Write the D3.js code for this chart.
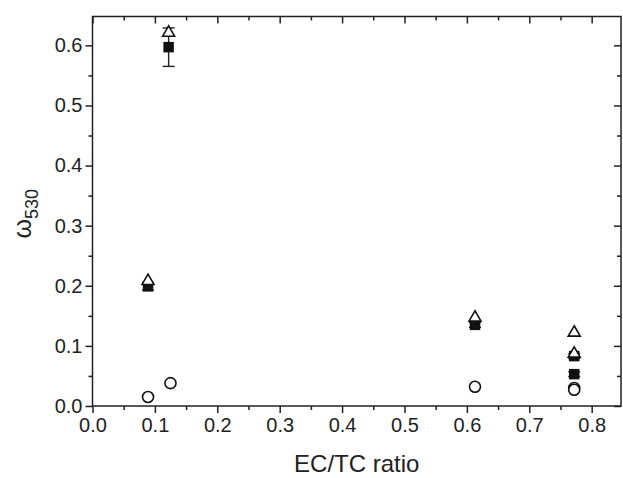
<!DOCTYPE html>
<html>
<head>
<meta charset="utf-8">
<script src="https://cdn.jsdelivr.net/npm/d3@7"></script>
<style>
  body { margin: 0; background: #fff; }
  text { font-family: "Liberation Sans", Arial, sans-serif; fill: #222; }
</style>
</head>
<body>
<div id="chart"></div>
<script>
// values
const squareX = [0.089, 0.122, 0.613, 0.772, 0.772];
const squareY = [0.199, 0.597, 0.135, 0.083, 0.053];
const squareErr = [0.006, 0.032, 0.004, 0.004, 0.004];

const triangleX = [0.089, 0.122, 0.613, 0.772, 0.772];
const triangleY = [0.208, 0.621, 0.147, 0.122, 0.087];

const circleX = [0.089, 0.125, 0.613, 0.772, 0.772];
const circleY = [0.015, 0.038, 0.032, 0.030, 0.027];

const xMajor = [0, 0.1, 0.2, 0.3, 0.4, 0.5, 0.6, 0.7, 0.8];
const yMajor = [0, 0.1, 0.2, 0.3, 0.4, 0.5, 0.6];

const margin = { top: 16.5, right: 2, bottom: 72, left: 92.5 },
    width = 623 - margin.left - margin.right,
    height = 478 - margin.top - margin.bottom;

const svg = d3.select("#chart")
    .append("svg")
    .attr("width", 623)
    .attr("height", 478)
    .append("g")
    .attr("transform", `translate(${margin.left},${margin.top})`);

const x = d3.scaleLinear().domain([0, 0.847]).range([0, width]);
const y = d3.scaleLinear().domain([0, 0.648]).range([height, 0]);

const xMinor = d3.range(0.05, 0.85, 0.1);
const yMinor = d3.range(0.05, 0.65, 0.1);
const fmt = d3.format(".1f");

function styleAxis(g) {
    g.selectAll("line").attr("stroke", "#222").attr("stroke-width", 1.5);
    g.select(".domain").remove();
}

// bottom axis
svg.append("g").attr("transform", `translate(0,${height})`)
    .call(d3.axisBottom(x).tickValues(xMajor).tickFormat(fmt).tickSize(7).tickPadding(5))
    .call(styleAxis)
    .selectAll("text").style("font-size", "20px").attr("fill", "#222");
svg.append("g").attr("transform", `translate(0,${height})`)
    .call(d3.axisBottom(x).tickValues(xMinor).tickFormat("").tickSize(4))
    .call(styleAxis);

// left axis
svg.append("g")
    .call(d3.axisLeft(y).tickValues(yMajor).tickFormat(fmt).tickSize(7).tickPadding(3))
    .call(styleAxis)
    .selectAll("text").style("font-size", "20px").attr("fill", "#222");
svg.append("g")
    .call(d3.axisLeft(y).tickValues(yMinor).tickFormat("").tickSize(4))
    .call(styleAxis);

// top and right mirror ticks, pointing inward
svg.append("g")
    .call(d3.axisTop(x).tickValues(xMajor).tickFormat("").tickSize(-7))
    .call(styleAxis);
svg.append("g")
    .call(d3.axisTop(x).tickValues(xMinor).tickFormat("").tickSize(-4))
    .call(styleAxis);
svg.append("g").attr("transform", `translate(${width},0)`)
    .call(d3.axisRight(y).tickValues(yMajor).tickFormat("").tickSize(-7))
    .call(styleAxis);
svg.append("g").attr("transform", `translate(${width},0)`)
    .call(d3.axisRight(y).tickValues(yMinor).tickFormat("").tickSize(-4))
    .call(styleAxis);

// frame
svg.append("rect")
    .attr("width", width).attr("height", height)
    .attr("fill", "none").attr("stroke", "#222").attr("stroke-width", 1.5);

// squares with error bars
const sq = squareX.map((v, i) => ({ x: v, y: squareY[i], e: squareErr[i] }));
const eb = svg.selectAll(".err").data(sq).enter().append("g").attr("class", "err");
eb.append("line")
    .attr("x1", d => x(d.x)).attr("x2", d => x(d.x))
    .attr("y1", d => y(d.y - d.e)).attr("y2", d => y(d.y + d.e))
    .attr("stroke", "#222").attr("stroke-width", 1.4);
eb.append("line")
    .attr("x1", d => x(d.x) - 6).attr("x2", d => x(d.x) + 6)
    .attr("y1", d => y(d.y - d.e)).attr("y2", d => y(d.y - d.e))
    .attr("stroke", "#222").attr("stroke-width", 1.4);
eb.append("line")
    .attr("x1", d => x(d.x) - 6).attr("x2", d => x(d.x) + 6)
    .attr("y1", d => y(d.y + d.e)).attr("y2", d => y(d.y + d.e))
    .attr("stroke", "#222").attr("stroke-width", 1.4);
svg.selectAll(".sq").data(sq).enter().append("path")
    .attr("class", "sq")
    .attr("transform", d => `translate(${x(d.x)},${y(d.y)})`)
    .attr("d", d3.symbol(d3.symbolSquare, 110))
    .attr("fill", "#111");

// open triangles
svg.selectAll(".tri").data(triangleX.map((v, i) => ({ x: v, y: triangleY[i] })))
    .enter().append("path")
    .attr("class", "tri")
    .attr("transform", d => `translate(${x(d.x)},${y(d.y)})`)
    .attr("d", d3.symbol(d3.symbolTriangle, 62))
    .attr("fill", "#fff").attr("stroke", "#111").attr("stroke-width", 1.6);

// open circles
svg.selectAll(".circ").data(circleX.map((v, i) => ({ x: v, y: circleY[i] })))
    .enter().append("circle")
    .attr("class", "circ")
    .attr("cx", d => x(d.x)).attr("cy", d => y(d.y)).attr("r", 5.5)
    .attr("fill", "#fff").attr("stroke", "#111").attr("stroke-width", 1.6);

// axis titles
svg.append("text")
    .attr("x", width / 2).attr("y", height + 66)
    .attr("text-anchor", "middle")
    .style("font-size", "24px")
    .text("EC/TC ratio");

const yl = svg.append("text")
    .attr("transform", `translate(${-62},${y(0.32)}) rotate(-90)`)
    .attr("text-anchor", "middle")
    .style("font-size", "25px");
yl.append("tspan").text("ω");
yl.append("tspan").attr("dy", 7).style("font-size", "18px").text("530");
</script>
</body>
</html>
